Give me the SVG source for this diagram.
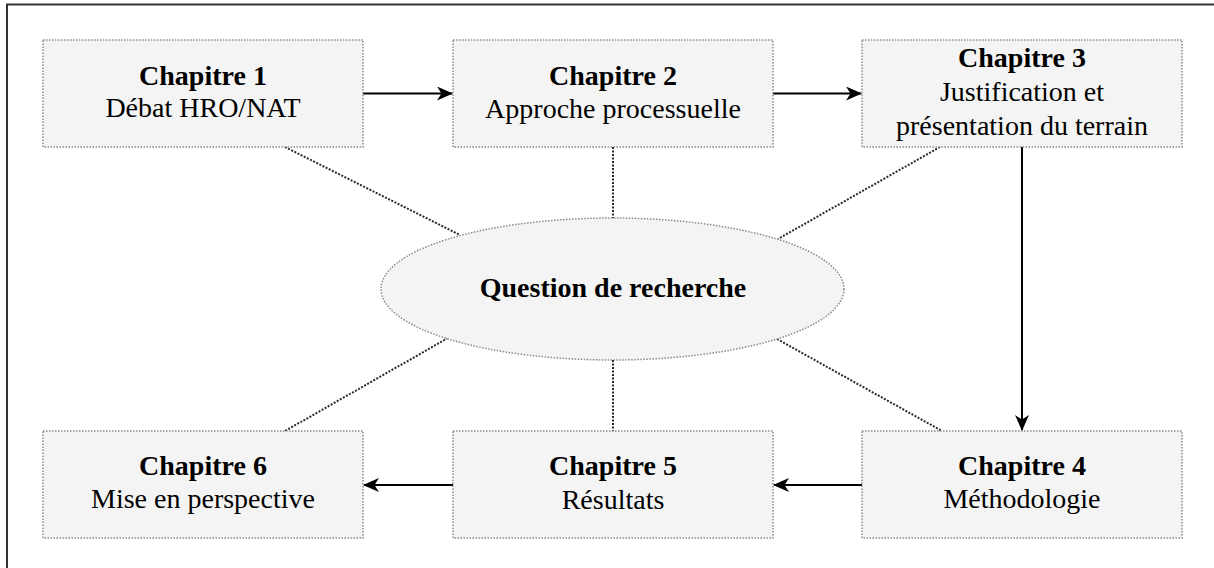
<svg xmlns="http://www.w3.org/2000/svg" width="1214" height="568" viewBox="0 0 1214 568">
<defs>
<style>
.box{fill:#f4f4f4;stroke:#8a8a8a;stroke-width:1.5;stroke-dasharray:1.5 1.5}
.t{font-family:"Liberation Serif","Times New Roman",serif;font-size:28px;fill:#000;text-anchor:middle}
.b{font-weight:bold}
.arr{stroke:#000;stroke-width:2;fill:none;marker-end:url(#ah)}
.dot{stroke:#2a2a2a;stroke-width:2;fill:none;stroke-dasharray:2 1.5}
</style>
<marker id="ah" viewBox="0 0 16 14" refX="15" refY="7" markerWidth="16" markerHeight="14" markerUnits="userSpaceOnUse" orient="auto">
<path d="M0,0 L16,7 L0,14 L4.5,7 Z" fill="#000"/>
</marker>
</defs>
<g id="frame" fill="none" stroke="#333" stroke-width="2">
<path d="M7,568 L7,4.5 L1214,4.5"/>
</g>
<g id="connectors">
<path class="dot" d="M285,147 L460,235"/>
<path class="dot" d="M613,147 L613,218"/>
<path class="dot" d="M940,147 L778,239"/>
<path class="dot" d="M448,338 L285,431"/>
<path class="dot" d="M613,360 L613,431"/>
<path class="dot" d="M777,339 L942,431"/>
<path class="arr" d="M363,93.5 L452,93.5"/>
<path class="arr" d="M773,93.5 L861,93.5"/>
<path class="arr" d="M1022,147 L1022,430"/>
<path class="arr" d="M862,485 L774,485"/>
<path class="arr" d="M453,485 L364,485"/>
</g>
<g id="ch1">
<rect class="box" x="43" y="40" width="320" height="107"/>
<text class="t b" x="203" y="85">Chapitre 1</text>
<text class="t" x="203" y="117">Débat HRO/NAT</text>
</g>
<g id="ch2">
<rect class="box" x="453" y="40" width="320" height="107"/>
<text class="t b" x="613" y="85">Chapitre 2</text>
<text class="t" x="613" y="118">Approche processuelle</text>
</g>
<g id="ch3">
<rect class="box" x="862" y="40" width="320" height="107"/>
<text class="t b" x="1022" y="67">Chapitre 3</text>
<text class="t" x="1022" y="101">Justification et</text>
<text class="t" x="1022" y="135">présentation du terrain</text>
</g>
<g id="question">
<ellipse class="box" cx="612.5" cy="289" rx="231.5" ry="71"/>
<text class="t b" x="613" y="297">Question de recherche</text>
</g>
<g id="ch4">
<rect class="box" x="862" y="431" width="320" height="107"/>
<text class="t b" x="1022" y="475">Chapitre 4</text>
<text class="t" x="1022" y="508">Méthodologie</text>
</g>
<g id="ch5">
<rect class="box" x="453" y="431" width="320" height="107"/>
<text class="t b" x="613" y="475">Chapitre 5</text>
<text class="t" x="613" y="509">Résultats</text>
</g>
<g id="ch6">
<rect class="box" x="43" y="431" width="320" height="107"/>
<text class="t b" x="203" y="475">Chapitre 6</text>
<text class="t" x="203" y="508">Mise en perspective</text>
</g>
</svg>
